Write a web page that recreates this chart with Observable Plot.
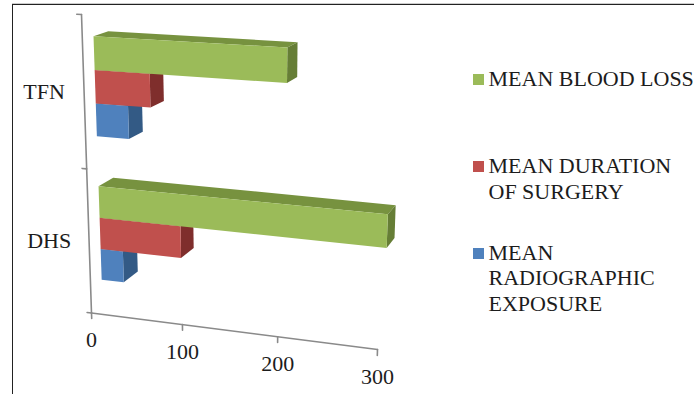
<!DOCTYPE html>
<html>
<head>
<meta charset="utf-8">
<script src="https://cdn.jsdelivr.net/npm/d3@7"></script>
<script src="https://cdn.jsdelivr.net/npm/@observablehq/plot@0.6"></script>
<style>
  html, body { margin: 0; padding: 0; background: #fff; }
  #chart { position: relative; width: 694px; height: 394px; overflow: hidden; }
  #border { position: absolute; left: 12px; top: 4px; width: 682px; height: 390px;
            border-left: 1.5px solid #222; border-top: 1.5px solid #222;
            box-shadow: 0 -1px 0 #ccc; }
  #chart svg { position: absolute; left: 0; top: 0; }
</style>
</head>
<body>
<div id="chart"><div id="border"></div></div>
<script>
// Treatment groups, bottom to top
const categories = ["DHS", "TFN"];
// Series values per group, same order as categories
const radiographicExposure = [25, 35];
const durationOfSurgery = [89, 59];
const bloodLoss = [300, 199];
const valueTicks = [0, 100, 200, 300];

// Legend entries, top to bottom
const legendLabels = ["MEAN BLOOD LOSS", "MEAN DURATION\nOF SURGERY", "MEAN\nRADIOGRAPHIC\nEXPOSURE"];
const legendColors = ["#9BBB59", "#C0504D", "#4F81BD"];

const seriesList = [
  {values: radiographicExposure, front: "#4F81BD", top: "#3D6797", side: "#335A85"},
  {values: durationOfSurgery, front: "#C0504D", top: "#99403D", side: "#7F2E2C"},
  {values: bloodLoss, front: "#9BBB59", top: "#77923F", side: "#667E36"}
];

// Perspective of the floor-to-wall plane: value (0–300) and band position (0–2)
// are carried onto the picture plane by a four-corner homography.
const [x0, y0, x1, y1, x2, y2, x3, y3] = [91, 312.5, 377, 349, 388, 30, 81, 14];
const sx = x0 - x1 + x2 - x3, sy = y0 - y1 + y2 - y3;
const dx1 = x1 - x2, dx2 = x3 - x2, dy1 = y1 - y2, dy2 = y3 - y2;
const det = dx1 * dy2 - dx2 * dy1;
const g = (sx * dy2 - dx2 * sy) / det, h = (dx1 * sy - sx * dy1) / det;

// Depth recedes towards a vanishing point: layer 1 is the bars' front, layer 2 their back
const vanish = [720, -175];
const depthSteps = [0.0175, 0.0235];

const perspective = {
  stream(sink) {
    return {
      point(u, v, layer = 0) {
        const s = u / 300, t = v / 2, q = 1 + g * s + h * t;
        let px = (x0 + (x1 - x0 + g * x1) * s + (x3 - x0 + h * x3) * t) / q;
        let py = (y0 + (y1 - y0 + g * y1) * s + (y3 - y0 + h * y3) * t) / q;
        for (let i = 0; i < layer; ++i) {
          px += depthSteps[i] * (vanish[0] - px);
          py += depthSteps[i] * (vanish[1] - py);
        }
        sink.point(px, py);
      },
      lineStart() { sink.lineStart(); },
      lineEnd() { sink.lineEnd(); },
      polygonStart() { sink.polygonStart(); },
      polygonEnd() { sink.polygonEnd(); },
      sphere() {}
    };
  }
};

const ring = (...pts) => ({type: "Polygon", coordinates: [[...pts, pts[0]]]});
const bandInset = 0.18, barThickness = 0.22;

// One 3D bar: top and end faces first, the front face over them
const barMarks = categories.flatMap((_, c) => seriesList.flatMap((ser, i) => {
  const a = c + bandInset + i * barThickness, b = a + barThickness, val = ser.values[c];
  return [
    Plot.geo([ring([0, b, 1], [val, b, 1], [val, b, 2], [0, b, 2])], {fill: ser.top}),
    Plot.geo([ring([val, a, 1], [val, b, 1], [val, b, 2], [val, a, 2])], {fill: ser.side}),
    Plot.geo([ring([0, a, 1], [val, a, 1], [val, b, 1], [0, b, 1])], {fill: ser.front})
  ];
}));

const axisLine = (coordinates) => ({type: "LineString", coordinates});
const axisStyle = {stroke: "#8a8a8a", strokeWidth: 1.6, fill: "none"};
const textStyle = {fontSize: 22, fill: "#1c1c1c"};

const plot = Plot.plot({
  width: 694,
  height: 394,
  margin: 0,
  projection: perspective,
  style: {background: "transparent", fontFamily: "'Liberation Serif', serif", overflow: "visible"},
  marks: [
    // Axes
    Plot.geo([axisLine([[0, 0], [0, 2]])], axisStyle),
    Plot.geo([axisLine([[0, 0], [300, 0]])], axisStyle),
    Plot.geo(valueTicks.map((d) => axisLine([[d, 0], [d, -0.04]])), axisStyle),
    Plot.geo([0, 1, 2].map((d) => axisLine([[0, d], [-5, d]])), axisStyle),
    // Bars
    ...barMarks,
    // Axis labels
    Plot.text(valueTicks, {x: (d) => d, y: () => 0, text: (d) => String(d), dy: 27, ...textStyle}),
    Plot.text(categories, {x: () => 0, y: (_, i) => i + 0.5, text: (d) => d, dx: -40, dy: -1, ...textStyle}),
    // Legend
    ...legendLabels.flatMap((label, i) => [
      Plot.dot([label], {frameAnchor: "top-left", dx: 478, dy: [79, 166, 253][i], symbol: "square", r: 6.2, fill: legendColors[i]}),
      Plot.text([label], {
        frameAnchor: "top-left",
        dx: 488,
        dy: [67, 154.4, 241][i],
        text: (d) => d,
        textAnchor: "start",
        lineAnchor: "top",
        lineHeight: 1.165,
        fontSize: 22,
        fill: "#1c1c1c"
      })
    ])
  ]
});
document.getElementById("chart").append(plot);
</script>
</body>
</html>
